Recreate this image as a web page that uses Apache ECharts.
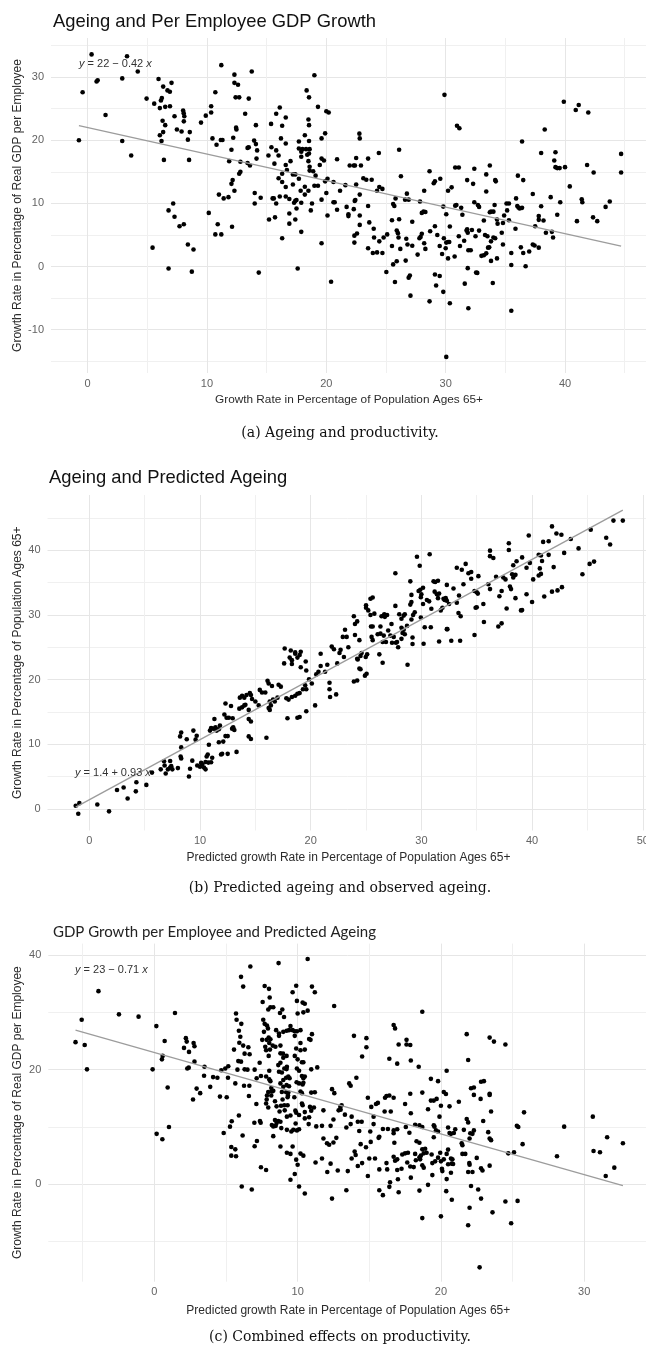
<!DOCTYPE html>
<html><head><meta charset="utf-8">
<script src="https://cdn.jsdelivr.net/npm/echarts@6/dist/echarts.min.js"></script>
<style>html,body{margin:0;padding:0;background:#fff}#c{width:646px;height:1348px}</style>
</head><body><div id="c"></div>
<script>
// ---------------- DATA ----------------
// Panel (a): x = growth of population 65+, y = growth of real GDP per employee
const panelA_points = [
[0.33,33.6],[-0.42,27.6],[0.75,29.3],[0.84,29.5],[1.5,24.0],[-0.73,20.0],[2.9,29.8],[3.3,33.3],[4.2,30.9],[2.9,19.9],[3.65,17.6],[4.94,26.6],[5.58,25.8],[5.94,29.7],[6.05,25.1],[6.14,26.3],[6.22,26.7],[6.33,28.5],[6.5,25.3],[6.69,27.9],[6.89,27.7],[7.03,29.1],[6.9,25.4],[6.28,23.1],[6.33,21.3],[6.5,22.4],[6.05,20.8],[6.19,19.9],[6.39,16.9],[7.28,23.8],[7.48,21.7],[7.87,21.4],[8.0,24.7],[8.05,24.3],[8.1,23.8],[8.06,23.0],[8.4,20.1],[8.56,21.3],[8.5,16.9],[9.5,22.8],[9.9,23.9],[10.35,25.4],[10.35,24.4],[10.7,27.6],[11.2,31.9],[10.46,20.3],[10.8,19.3],[11.16,20.05],[11.3,20.05],[12.3,30.4],[12.3,29.1],[12.6,28.8],[12.4,26.8],[12.7,26.8],[13.75,30.9],[13.5,26.6],[13.2,24.2],[12.44,22.0],[12.47,21.7],[12.2,20.4],[12.05,18.5],[11.86,16.7],[14.1,22.4],[13.5,18.9],[13.4,18.8],[13.95,19.95],[14.1,19.4],[14.2,18.4],[14.15,17.1],[12.8,16.6],[12.8,15.0],[12.7,14.7],[12.15,13.7],[12.05,13.1],[12.3,12.0],[11.8,11.0],[11.0,11.4],[11.4,10.8],[13.4,16.4],[13.6,16.0],[14.0,11.65],[14.5,10.9],[14.0,10.0],[10.15,8.5],[10.9,6.7],[10.7,5.1],[11.2,5.1],[12.1,6.3],[6.78,8.9],[7.17,10.0],[7.28,7.9],[7.7,6.4],[8.06,6.7],[8.4,3.5],[8.87,2.7],[5.44,3.0],[6.78,-0.3],[8.73,-0.8],[14.34,-0.95],[15.37,22.6],[15.8,24.2],[16.1,25.2],[16.6,23.6],[16.3,22.3],[16.2,20.3],[16.6,19.5],[15.4,18.9],[15.8,18.4],[15.15,17.6],[16.0,17.6],[15.65,16.3],[16.6,16.1],[16.7,15.3],[17.0,16.7],[17.4,14.6],[17.2,14.6],[16.0,14.0],[16.3,13.4],[17.2,13.0],[16.6,12.6],[17.7,19.8],[17.7,18.7],[18.0,18.6],[17.9,18.2],[18.2,20.8],[18.55,19.9],[18.5,23.3],[18.55,22.4],[18.35,27.9],[18.55,26.8],[19.0,30.3],[19.3,25.3],[18.3,18.6],[18.6,18.6],[18.4,17.7],[18.55,17.9],[17.9,17.4],[18.5,16.7],[18.6,15.8],[18.6,15.2],[18.9,15.1],[19.1,14.4],[19.3,12.8],[19.0,12.8],[19.6,17.1],[19.8,16.8],[19.9,21.1],[19.6,20.3],[20.0,24.6],[20.2,24.4],[19.45,16.1],[19.9,13.5],[20.0,11.65],[20.1,13.9],[20.6,13.4],[20.9,17.0],[19.6,10.6],[20.1,8.1],[20.6,10.2],[20.7,10.2],[20.9,9.0],[19.6,3.7],[20.4,-2.4],[17.6,-0.3],[17.9,5.5],[16.3,4.5],[16.9,6.8],[16.9,8.4],[17.4,7.45],[17.5,9.2],[17.5,10.55],[17.3,10.1],[17.4,10.4],[16.9,10.7],[16.6,11.1],[16.1,11.1],[15.6,10.8],[15.8,10.0],[15.5,10.8],[15.7,7.8],[15.2,7.45],[16.3,14.7],[17.7,13.9],[17.85,12.0],[18.2,11.4],[18.5,12.0],[17.9,10.1],[18.7,8.9],[18.2,12.65],[18.8,10.0],
[21.15,12.0],[21.6,12.9],[21.7,9.45],[21.85,8.3],[21.85,8.0],[22.3,9.1],[22.38,10.4],[22.43,10.55],[21.96,16.0],[22.3,16.0],[22.4,16.0],[22.5,17.2],[22.77,21.05],[22.8,20.3],[22.9,16.0],[22.5,13.0],[22.8,11.4],[22.8,8.1],[22.8,6.6],[22.35,4.9],[22.57,5.25],[22.35,3.8],[23.1,14.0],[23.35,13.75],[23.5,17.1],[23.8,13.75],[23.5,9.6],[23.6,7.0],[23.97,6.0],[23.5,2.9],[24.0,4.6],[23.9,2.15],[24.25,2.25],[24.7,2.15],[24.44,4.0],[24.4,18.0],[24.44,12.6],[24.7,12.3],[24.25,12.0],[24.8,4.6],[25.1,5.1],[25.03,-0.85],[25.5,3.25],[25.75,-2.45],[25.6,0.35],[25.9,0.85],[26.1,18.5],[26.25,14.3],[25.6,9.9],[25.7,9.6],[25.8,10.8],[25.5,7.35],[25.9,5.7],[26.0,5.3],[26.1,7.5],[26.05,4.6],[26.2,2.8],[26.6,10.6],[26.75,11.55],[26.9,10.6],[26.7,4.4],[26.8,3.5],[26.65,0.95],[27.0,-1.4],[26.9,-1.75],[27.2,7.1],[27.2,3.3],[27.65,1.9],[27.85,10.3],[28.0,5.2],[28.2,12.0],[28.0,8.5],[28.15,8.7],[28.3,8.65],[28.65,15.1],[29.0,13.2],[29.1,13.5],[27.8,4.5],[27.9,4.7],[28.2,3.7],[28.3,2.8],[28.7,5.6],[29.1,6.4],[29.3,5.0],[29.55,13.9],[29.9,27.2],[29.8,9.5],[30.05,8.3],[30.2,12.0],[30.5,12.55],[30.35,6.35],[29.85,4.5],[30.05,3.8],[30.2,3.9],[30.3,3.9],[29.7,2.0],[30.0,2.9],[30.2,1.3],[29.5,3.25],[29.1,-1.25],[29.5,-1.5],[29.2,-3.0],[29.8,-4.0],[28.65,-5.5],[27.05,-4.6],[30.35,-5.8],[30.05,-14.3],[30.95,22.3],[31.15,21.9],[30.8,15.7],[31.1,15.7],[30.8,9.65],[30.9,9.75],[31.3,9.3],[31.4,8.2],[31.55,4.1],[31.75,5.7],[31.8,5.9],[31.85,5.35],[32.2,5.8],[30.75,1.6],[31.1,4.8],[31.2,3.25],[31.6,-2.7],[31.85,-0.25],[32.55,-0.95],[32.65,-1.0],[31.9,-6.6],[31.8,13.7],[32.3,13.1],[32.4,15.5],[32.4,10.2],[32.7,9.75],[32.8,9.45],[31.9,2.6],[32.1,2.6],[32.5,4.8],[32.8,5.7],[33.2,7.3],[33.4,14.6],[33.7,16.0],[33.4,11.9],[33.7,8.6],[33.8,8.7],[34.15,13.7],[34.2,13.5],[34.1,9.75],[34.0,8.7],[34.3,7.45],[34.35,6.8],[33.3,5.0],[33.5,4.8],[33.65,3.05],[33.55,3.0],[33.4,2.1],[33.2,1.8],[33.0,1.7],[33.8,4.0],[34.0,4.6],[34.15,4.5],[33.8,0.9],[34.3,1.3],[33.95,-2.6],[34.7,5.35],[34.8,3.5],[34.9,8.1],[34.8,6.9],[35.1,10.0],[35.3,10.0],[35.15,8.9],[35.3,7.35],[35.5,2.15],[35.5,0.25],[35.5,-7.0],[35.9,10.8],[35.85,6.0],[36.0,9.6],[36.1,9.35],[36.2,9.2],[36.4,9.3],[36.05,14.4],[36.5,13.7],[36.4,19.8],[36.3,3.05],[36.5,2.15],[36.7,0.05],[37.0,2.4],[37.3,3.5],[37.45,3.35],[37.8,3.0],[37.3,11.5],[37.5,6.4],[37.8,8.0],[37.8,7.4],[38.0,9.55],[38.0,18.0],[38.3,21.7],[38.2,7.3],[38.4,5.35],[38.8,11.0],[38.9,5.5],[39.0,4.6],[39.1,16.8],[39.2,18.1],[39.2,15.75],[39.35,15.6],[39.55,15.6],[39.35,8.2],[39.6,10.2],[39.9,26.1],[40.0,15.75],[40.4,12.7],[40.9,24.8],[41.15,25.6],[41.0,7.2],[41.4,10.65],[41.45,10.2],[41.85,16.1],[41.95,24.4],[42.4,14.9],[42.35,7.8],[42.7,7.2],[43.4,9.45],[43.75,10.3],[44.7,17.85],[44.7,14.9]
];
// Panel (b): x = predicted growth of population 65+, y = observed growth of population 65+
const panelB_points = [
[-1.23,0.46],[-0.9,0.87],[-1.0,-0.77],[0.72,0.67],[1.78,-0.4],[2.5,2.9],[3.1,3.3],[3.46,1.6],[4.2,2.7],[4.25,4.1],[5.15,3.7],[5.66,5.6],[6.45,6.1],[6.8,6.7],[6.75,7.35],[6.9,5.45],[7.1,6.1],[7.3,6.4],[7.5,6.1],[7.4,6.6],[8.0,6.3],[7.3,7.4],[8.25,8.1],[8.3,7.8],[8.3,9.5],[8.2,11.2],[8.3,11.8],[8.8,10.75],[9.0,5.0],[9.1,6.2],[9.3,7.45],[9.4,12.1],[9.6,10.7],[9.7,11.3],[9.75,6.7],[10.0,6.5],[10.2,6.9],[10.36,6.4],[10.5,6.1],[10.1,7.1],[10.5,7.25],[10.7,8.4],[10.6,8.1],[10.8,9.9],[10.75,7.15],[11.0,7.2],[11.1,7.9],[10.9,12.1],[11.2,12.4],[11.4,12.6],[11.3,13.9],[11.0,12.5],[11.5,12.1],[11.7,12.3],[11.8,12.9],[11.7,10.3],[12.1,10.4],[11.9,8.4],[12.0,8.5],[12.5,8.5],[12.2,14.6],[12.3,16.3],[12.4,14.1],[12.6,14.1],[12.3,11.25],[12.5,11.25],[12.8,15.9],[12.95,14.0],[13.0,12.6],[13.1,12.2],[12.9,12.4],[13.3,8.8],[13.6,17.2],[13.8,17.5],[14.0,17.2],[13.55,15.5],[14.0,16.0],[13.8,15.7],[14.2,17.6],[14.5,17.9],[14.6,17.6],[14.7,17.0],[14.4,13.9],[14.6,13.5],[14.4,11.2],[14.6,10.8],[14.1,16.1],[14.4,15.3],[15.0,16.6],[15.3,16.0],[15.4,18.4],[15.6,18.0],[15.9,18.0],[16.1,19.8],[16.2,19.4],[16.5,19.0],[16.3,16.6],[16.6,16.9],[16.75,16.6],[16.0,11.0],[16.2,15.6],[16.3,15.3],[16.4,16.0],[17.1,19.2],[17.3,18.9],[17.0,17.2],[17.6,22.5],[18.1,23.4],[18.3,23.0],[18.3,22.4],[18.6,24.2],[19.0,23.8],[19.1,24.3],[17.65,24.8],[18.2,24.5],[18.6,24.0],[18.8,23.4],[19.1,21.9],[19.55,22.8],[19.6,21.4],[17.9,14.0],[18.8,14.1],[19.0,14.2],[19.6,15.1],[20.4,16.0],[17.8,17.1],[18.0,16.9],[18.3,17.3],[18.6,17.5],[18.8,17.8],[19.0,17.9],[19.3,18.5],[19.5,19.1],[19.6,18.5],[19.85,20.05],[20.1,19.4],[20.5,20.8],[20.7,21.2],[20.9,22.1],[21.3,21.2],[21.5,22.3],[21.7,18.5],[21.7,19.5],[21.9,25.1],[22.1,24.7],[22.4,22.5],[20.9,24.0],[21.75,17.3],[22.3,17.7],
[22.7,24.6],[22.6,24.1],[22.9,26.6],[23.25,26.6],[23.1,27.7],[23.4,25.0],[23.0,23.5],[23.9,29.8],[24.0,28.6],[24.2,29.0],[24.0,26.9],[24.4,26.1],[24.6,24.1],[24.2,23.2],[24.25,23.1],[24.5,23.65],[24.4,21.7],[24.5,21.6],[23.9,19.7],[24.2,19.85],[24.9,20.6],[25.05,20.9],[24.97,23.5],[25.1,23.9],[25.0,31.5],[25.0,31.1],[25.4,32.5],[25.6,32.7],[25.2,30.7],[25.4,30.0],[25.45,28.2],[25.6,28.2],[25.75,30.2],[25.5,26.6],[25.6,26.1],[26.2,23.9],[26.5,22.6],[26.3,28.2],[26.4,29.8],[26.6,29.9],[26.7,29.7],[26.9,30.0],[26.65,30.1],[26.05,27.0],[26.3,27.1],[26.6,26.8],[26.5,25.8],[26.8,25.8],[27.0,27.6],[27.3,28.6],[27.2,26.8],[27.5,26.6],[27.65,36.45],[27.65,31.4],[27.35,25.7],[27.7,25.7],[27.8,25.8],[27.9,25.0],[28.2,26.3],[28.0,30.1],[28.2,29.4],[28.4,29.9],[28.5,30.1],[28.2,28.0],[28.3,27.2],[28.4,27.7],[28.5,27.0],[28.7,28.3],[28.75,22.3],[29.0,35.2],[29.1,33.1],[29.0,31.6],[29.1,32.0],[29.1,29.3],[29.25,30.0],[29.4,30.4],[29.2,26.5],[29.2,25.5],[29.6,39.0],[29.85,37.6],[29.75,33.7],[29.9,33.9],[30.0,33.2],[30.15,34.2],[29.95,32.75],[30.15,31.7],[29.95,29.6],[30.3,28.1],[30.85,28.1],[30.2,25.55],[30.5,32.3],[30.7,32.1],[30.9,30.95],[30.75,39.4],[31.1,35.2],[31.25,35.1],[31.5,35.3],[31.2,33.6],[31.4,33.2],[31.5,32.6],[31.6,33.3],[31.75,30.7],[31.9,31.1],[32.0,32.5],[32.1,32.3],[32.2,32.6],[32.3,34.65],[32.3,32.2],[32.5,31.7],[31.6,25.9],[32.3,27.8],[32.35,27.8],[32.7,26.0],[32.9,34.1],[33.2,37.3],[33.4,33.0],[33.2,31.9],[33.35,30.3],[33.55,29.8],[33.5,26.0],[33.65,37.0],[34.0,37.9],[33.8,34.75],[34.25,36.45],[34.5,36.65],[34.5,35.6],[34.8,33.7],[35.0,33.5],[35.1,33.3],[34.9,31.1],[35.0,31.2],[35.6,31.7],[34.8,26.9],[35.15,36.0],[35.65,28.9],[36.05,34.75],[36.2,34.0],[36.2,39.95],[36.2,39.1],[36.5,38.8],[36.75,35.9],[36.95,28.2],[37.25,28.7],[37.05,32.9],[37.25,33.7],[37.4,35.8],[37.6,35.5],[37.7,31.0],[37.9,41.1],[37.9,40.05],[38.0,34.4],[38.1,34.0],[38.2,36.3],[38.3,35.8],[38.5,36.2],[38.3,37.7],[38.6,38.3],[38.5,32.6],[39.0,30.7],[39.1,30.75],[39.1,38.9],[39.5,33.2],[40.0,32.0],[39.7,42.3],[39.5,37.3],[39.8,38.05],[40.1,35.5],[40.6,36.1],[40.8,36.35],[40.6,39.3],[40.8,39.2],[40.7,37.2],[40.9,38.35],[41.0,41.3],[41.5,41.4],[41.1,32.85],[41.5,39.3],[41.8,33.6],[42.3,33.8],[42.7,34.3],[41.8,43.7],[41.95,37.4],[42.2,42.6],[42.65,42.4],[42.9,39.6],[43.5,41.75],[44.2,40.3],[44.55,36.3],[45.2,37.9],[45.6,38.25],[45.3,43.2],[46.7,41.95],[47.05,40.9],[47.35,44.6],[48.2,44.6]
];
// Panel (c): x = predicted growth of population 65+, y = growth of real GDP per employee
const panelC_points = [
[-5.5,24.8],[-5.07,28.7],[-4.86,24.3],[-4.7,20.06],[-3.9,33.7],[-2.47,29.65],[-1.1,29.25],[0.14,27.6],[-0.12,20.06],[0.72,25.0],[0.58,22.4],[0.53,21.8],[0.93,16.9],[1.44,29.9],[0.16,8.8],[0.56,7.85],[1.02,10.0],[2.2,25.5],[2.26,24.9],[2.07,23.8],[2.42,23.1],[2.74,24.65],[2.8,24.1],[2.3,20.2],[2.4,20.35],[2.8,21.4],[3.5,20.5],[3.47,18.95],[2.95,16.7],[3.2,15.9],[2.7,14.8],[3.9,17.0],[4.1,18.7],[4.4,18.6],[4.67,19.9],[4.95,20.2],[5.16,20.6],[4.58,15.3],[5.05,15.2],[5.14,18.6],[4.84,8.95],[5.28,10.06],[5.4,11.0],[5.37,6.5],[5.65,6.1],[5.37,5.0],[5.7,4.9],[5.7,29.8],[5.74,28.7],[5.9,26.8],[6.0,25.75],[6.05,36.2],[6.2,34.5],[6.07,28.0],[5.93,24.7],[5.56,23.5],[6.2,24.2],[6.3,22.8],[5.86,21.5],[6.05,21.4],[5.8,20.0],[6.3,20.06],[6.5,20.0],[6.56,23.9],[6.65,22.7],[5.65,17.6],[6.26,17.2],[6.63,17.2],[6.6,15.4],[5.9,12.0],[6.16,8.5],[6.1,-0.4],[6.8,-0.9],[6.7,38.0],[7.0,20.0],[7.35,21.2],[7.14,18.5],[7.44,18.9],[7.12,14.0],[6.98,10.75],[7.37,11.05],[7.42,10.75],[7.16,7.56],[7.0,6.63],[7.44,2.97],[7.8,2.5],[7.56,31.8],[7.7,34.6],[7.6,28.7],[7.65,26.6],[7.53,25.2],[7.7,28.0],[7.86,27.7],[7.93,27.2],[8.0,34.1],[8.05,32.6],[7.95,30.5],[8.1,30.9],[8.3,30.9],[7.98,25.6],[8.1,25.3],[7.84,25.2],[8.02,24.65],[7.74,24.0],[7.8,23.4],[8.07,23.5],[7.98,22.4],[8.02,19.8],[7.8,18.8],[8.02,18.3],[8.1,18.0],[8.16,16.8],[7.95,16.1],[8.2,16.2],[8.3,16.3],[7.86,15.5],[7.84,14.8],[7.8,14.1],[7.95,13.4],[8.16,15.5],[8.42,14.5],[8.53,13.6],[8.2,10.35],[8.42,11.2],[8.47,10.2],[8.3,10.1],[8.3,8.4],[8.5,26.9],[8.7,26.3],[8.7,25.9],[8.26,24.2],[8.45,24.0],[8.8,24.2],[8.67,38.6],[8.77,29.9],[9.0,26.6],[9.23,26.8],[9.4,26.9],[8.93,30.5],[9.05,29.2],[8.8,22.85],[8.98,22.8],[9.0,22.1],[9.23,22.4],[8.65,20.8],[8.8,21.2],[8.7,19.65],[8.9,19.5],[9.07,20.2],[9.23,20.1],[9.25,20.5],[8.8,17.6],[9.0,18.2],[9.2,18.6],[9.35,18.8],[9.44,18.5],[9.0,17.0],[9.23,17.3],[9.4,17.1],[8.9,16.1],[9.2,16.05],[9.35,16.0],[8.95,14.8],[9.3,15.2],[9.33,15.5],[8.84,13.7],[9.07,13.8],[9.3,13.8],[9.1,12.9],[9.25,11.8],[9.5,12.0],[8.74,12.7],[8.65,11.05],[8.8,10.9],[8.53,10.7],[8.86,9.8],[9.25,9.5],[9.56,9.2],[9.7,9.5],[9.95,9.4],[10.1,9.6],[8.8,6.6],[9.25,5.5],[9.5,5.3],[9.65,6.6],[9.65,33.5],[9.9,34.65],[10.35,31.7],[10.5,31.5],[9.95,32.0],[10.0,29.8],[10.4,30.0],[10.7,30.3],[9.5,27.6],[9.65,26.9],[9.8,26.7],[9.95,26.7],[10.2,26.9],[9.8,25.9],[10.2,24.65],[9.9,23.7],[10.2,23.4],[10.5,23.5],[10.8,25.35],[11.0,26.2],[9.8,22.4],[10.0,21.8],[10.3,21.3],[10.4,21.3],[9.95,20.2],[10.1,19.8],[10.3,18.9],[10.4,18.5],[10.5,18.8],[9.93,17.8],[10.1,17.6],[10.35,17.4],[10.4,17.7],[10.2,16.2],[10.3,15.9],[9.77,15.2],[10.3,14.1],[10.35,13.8],[9.84,12.85],[9.9,12.5],[10.1,12.1],[10.5,12.6],[10.5,11.5],[10.8,11.7],[9.86,10.6],[10.77,10.5],[10.7,39.3],[11.0,34.5],[11.2,33.5],[10.9,25.2],[10.95,20.06],[11.37,20.4],[10.95,16.0],[11.2,16.05],[10.86,13.5],[11.14,13.4],[10.95,12.85],[11.3,10.1],[11.7,10.2],[11.8,12.9],[12.3,10.2],[12.5,11.3],[11.8,8.0],[12.05,7.15],[12.2,6.9],[12.5,7.3],[12.7,8.1],[9.9,4.3],[10.0,3.4],[10.2,5.35],[10.4,5.0],[9.8,1.8],[9.5,0.8],[10.1,-0.4],[10.5,-1.6],[11.25,3.8],[11.7,4.5],[12.07,2.15],[12.3,3.6],[12.8,2.4],[12.4,-2.5],[12.55,31.1],[12.4,16.6],[12.56,15.9],[12.86,12.9],
[13.93,25.9],[14.8,25.5],[14.8,23.9],[14.5,22.3],[14.1,18.6],[13.6,17.6],[13.7,17.2],[12.98,13.5],[13.0,13.0],[13.07,13.8],[13.3,12.15],[13.77,11.8],[13.4,9.9],[13.7,10.5],[14.2,10.9],[14.47,10.9],[14.3,9.3],[14.4,7.0],[14.77,6.45],[13.98,5.7],[14.05,5.1],[13.77,4.5],[13.5,2.3],[14.2,3.2],[14.5,3.7],[14.9,1.45],[14.9,15.1],[15.14,13.5],[15.3,11.8],[15.3,10.5],[15.47,14.0],[15.6,14.2],[15.07,9.2],[15.1,7.4],[15.0,4.5],[15.4,4.5],[15.7,2.6],[13.4,-1.05],[15.7,-1.05],[15.95,-1.9],[15.65,8.1],[15.7,8.3],[16.07,12.7],[16.5,12.7],[16.1,15.1],[16.2,15.4],[16.4,15.5],[16.7,15.1],[15.95,9.65],[16.3,9.65],[16.7,9.4],[16.95,9.6],[16.4,21.9],[16.7,27.8],[16.8,27.2],[16.95,21.05],[17.05,24.4],[16.7,8.9],[16.75,7.25],[16.2,3.7],[16.25,2.6],[16.7,4.8],[16.8,4.1],[16.95,4.35],[16.45,0.35],[16.4,-0.45],[16.95,2.5],[17.0,0.87],[17.05,-1.4],[17.25,2.7],[17.3,5.2],[17.5,5.4],[17.7,5.5],[17.5,14.0],[17.6,25.2],[17.6,24.4],[17.9,21.6],[17.86,24.3],[17.86,15.8],[17.9,12.4],[17.55,10.0],[17.8,9.0],[17.9,1.16],[17.86,3.1],[17.65,3.8],[18.1,3.0],[18.25,4.2],[18.2,5.3],[18.3,7.5],[18.5,7.25],[18.2,10.4],[18.5,10.3],[18.7,10.0],[18.45,20.5],[18.7,30.1],[18.7,16.0],[18.5,4.7],[18.55,4.35],[18.6,5.0],[18.7,6.1],[18.8,5.4],[18.9,6.2],[18.7,3.3],[18.8,2.9],[18.5,-1.1],[18.7,-5.9],[19.1,13.1],[19.1,-0.1],[19.3,18.4],[19.3,14.6],[19.5,14.6],[19.0,5.5],[19.35,5.2],[19.4,3.7],[19.6,4.0],[19.4,1.6],[19.7,14.9],[19.5,10.3],[19.55,10.06],[19.65,9.4],[19.5,8.2],[19.8,9.2],[19.9,11.8],[19.8,18.0],[20.0,13.7],[20.0,-5.6],[19.8,4.65],[19.95,5.5],[20.0,4.0],[20.07,2.7],[20.1,2.3],[20.2,4.35],[20.2,16.1],[20.35,15.75],[20.4,19.8],[20.6,13.6],[20.5,9.9],[20.6,8.95],[20.7,8.8],[20.5,6.05],[20.4,5.3],[20.7,4.5],[20.5,3.5],[20.75,3.6],[20.8,4.35],[20.85,3.55],[20.7,2.0],[20.4,0.9],[20.37,-1.2],[20.76,-2.7],[20.9,8.95],[21.0,9.6],[21.25,14.4],[21.45,7.15],[21.5,6.8],[21.5,5.3],[21.7,5.3],[21.6,9.5],[21.8,26.2],[21.9,21.7],[21.8,11.4],[21.9,10.8],[22.1,16.75],[22.3,16.9],[22.05,8.9],[22.3,9.4],[22.2,8.8],[22.0,8.0],[22.3,15.6],[21.98,3.7],[22.0,3.4],[21.9,2.15],[22.2,2.15],[22.1,-0.3],[22.0,-4.1],[21.9,-7.15],[22.5,4.6],[22.6,-0.9],[22.77,14.9],[22.8,17.9],[23.0,18.0],[22.8,2.8],[22.9,2.4],[22.8,-2.5],[22.95,11.05],[23.3,9.1],[23.4,8.0],[23.5,7.7],[23.4,15.8],[23.4,15.6],[23.5,12.7],[23.4,3.25],[23.4,25.6],[23.7,24.9],[23.6,-4.9],[22.7,-14.5],[24.5,24.4],[24.5,-3.0],[24.7,5.4],[25.1,5.6],[24.9,-6.8],[25.3,10.2],[25.4,10.0],[25.35,-2.9],[25.7,7.0],[25.8,12.55],[28.1,4.9],[28.6,10.06],[30.6,11.8],[30.65,5.8],[31.1,5.6],[31.6,8.2],[32.1,2.9],[31.5,1.45],[32.7,7.15]
];
// fitted lines (coefficients as printed on the chart)
const fitA = [22, -0.42];
const fitB = [1.4, 0.93];
const fitC = [23, -0.71];
// axis ranges and label steps
const xRangeA = [-3.07, 46.87], yRangeA = [-16.85, 36.2], stepA = [10, 10];
const xRangeB = [-3.78, 50.7],  yRangeB = [-3.36, 48.56], stepB = [10, 10];
const xRangeC = [-7.4, 34.5],   yRangeC = [-17.0, 42.0],  stepC = [10, 20];
// texts
const titles = ['Ageing and Per Employee GDP Growth', 'Ageing and Predicted Ageing', 'GDP Growth per Employee and Predicted Ageing'];
const xTitles = ['Growth Rate in Percentage of Population Ages 65+', 'Predicted growth Rate in Percentage of Population Ages 65+', 'Predicted growth Rate in Percentage of Population Ages 65+'];
const yTitles = ['Growth Rate in Percentage of Real GDP per Employee', 'Growth Rate in Percentage of Population Ages 65+', 'Growth Rate in Percentage of Real GDP per Employee'];
const captions = ['(a) Ageing and productivity.', '(b) Predicted ageing and observed ageing.', '(c) Combined effects on productivity.'];

// ---------------- LAYOUT ----------------
const SANS = '"Liberation Sans", Arial, Helvetica, sans-serif';
const grids = [
  {left: 51, top: 38, width: 596, height: 335},
  {left: 47.5, top: 495, width: 603, height: 335.5},
  {left: 48.3, top: 943.6, width: 600.4, height: 338.1}
];

function valAxis(gi, range, step, margin) {
  return {
    type: 'value', gridIndex: gi, min: range[0], max: range[1],
    minInterval: step, maxInterval: step, splitNumber: Math.round((range[1]-range[0])/step),
    axisLine: {show: false}, axisTick: {show: false},
    axisLabel: {show: true, color: '#636363', fontSize: 11, fontFamily: SANS, margin: margin,
      formatter: function (v) { const r = v / step; return Math.abs(r - Math.round(r)) < 1e-6 ? String(Math.round(v)) : ''; }},
    splitLine: {show: true, showMinLine: false, showMaxLine: false, lineStyle: {color: '#e6e6e6', width: 1}},
    minorTick: {show: false, splitNumber: 2},
    minorSplitLine: {show: true, lineStyle: {color: '#f0f0f0', width: 1}}
  };
}

function fitLine(points, coef) {
  const xs = points.map(p => p[0]);
  const x0 = Math.min.apply(null, xs), x1 = Math.max.apply(null, xs);
  return [[x0, coef[0] + coef[1] * x0], [x1, coef[0] + coef[1] * x1]];
}

function eqText(coef) {
  const b = coef[1];
  return '{i|y} = ' + coef[0] + (b < 0 ? ' \u2212 ' : ' + ') + Math.abs(b) + ' {i|x}';
}

const sets = [panelA_points, panelB_points, panelC_points];
const fits = [fitA, fitB, fitC];
const series = [];
sets.forEach((pts, i) => {
  series.push({type: 'line', xAxisIndex: i, yAxisIndex: i, data: fitLine(pts, fits[i]), symbol: 'none',
    lineStyle: {color: '#9c9c9c', width: 1.3}, silent: true, z: 3});
  series.push({type: 'scatter', xAxisIndex: i, yAxisIndex: i, data: pts, symbolSize: 4.6,
    itemStyle: {color: '#000', opacity: 1}, silent: true, z: 2});
});

function txt(x, y, text, font, color, align, extra) {
  return {type: 'text', x: x, y: y, z: 100,
    style: Object.assign({text: text, font: font, fill: color, align: align || 'left', verticalAlign: 'middle'}, extra || {})};
}
function vtxt(x, y, text) {
  const o = txt(x, y, text, '12px ' + SANS, '#2b2b2b', 'center');
  o.rotation = Math.PI / 2;
  return o;
}

const eqRich = {i: {fontStyle: 'italic', font: 'italic 11px ' + SANS, fill: '#333'}};
const CAP = '14px "DejaVu Serif", serif';
const CAP_X = 340;
const graphics = [
  txt(53, 22, titles[0], '18.4px ' + SANS, '#111'),
  txt(49, 478, titles[1], '18.4px ' + SANS, '#111'),
  txt(53, 932, titles[2], '15px Lato, "Open Sans", sans-serif', '#222'),
  vtxt(17.5, grids[0].top + grids[0].height / 2, yTitles[0]),
  vtxt(17.5, grids[1].top + grids[1].height / 2, yTitles[1]),
  vtxt(17.5, grids[2].top + grids[2].height / 2, yTitles[2]),
  txt(grids[0].left + 298, 400, xTitles[0], '11.8px ' + SANS, '#2b2b2b', 'center'),
  txt(grids[1].left + 301, 858, xTitles[1], '12px ' + SANS, '#2b2b2b', 'center'),
  txt(grids[2].left + 300, 1311, xTitles[2], '12px ' + SANS, '#2b2b2b', 'center'),
  txt(CAP_X, 433, captions[0], CAP, '#111', 'center'),
  txt(CAP_X, 888, captions[1], CAP, '#111', 'center'),
  txt(CAP_X, 1337, captions[2], CAP, '#111', 'center'),
  txt(79, 64, eqText(fitA), '11px ' + SANS, '#333', 'left', {rich: eqRich}),
  txt(75, 773, eqText(fitB), '11px ' + SANS, '#333', 'left', {rich: eqRich}),
  txt(75, 970, eqText(fitC), '11px ' + SANS, '#333', 'left', {rich: eqRich})
];

const chart = echarts.init(document.getElementById('c'), null, {renderer: 'canvas', width: 646, height: 1348});
chart.setOption({
  animation: false,
  backgroundColor: '#fff',
  grid: grids.map(g => Object.assign({containLabel: false, outerBoundsMode: 'none', show: false}, g)),
  xAxis: [valAxis(0, xRangeA, stepA[0], 5), valAxis(1, xRangeB, stepB[0], 5), valAxis(2, xRangeC, stepC[0], 5)],
  yAxis: [valAxis(0, yRangeA, stepA[1], 7), valAxis(1, yRangeB, stepB[1], 7), valAxis(2, yRangeC, stepC[1], 7)],
  series: series,
  graphic: graphics
});
</script></body></html>
